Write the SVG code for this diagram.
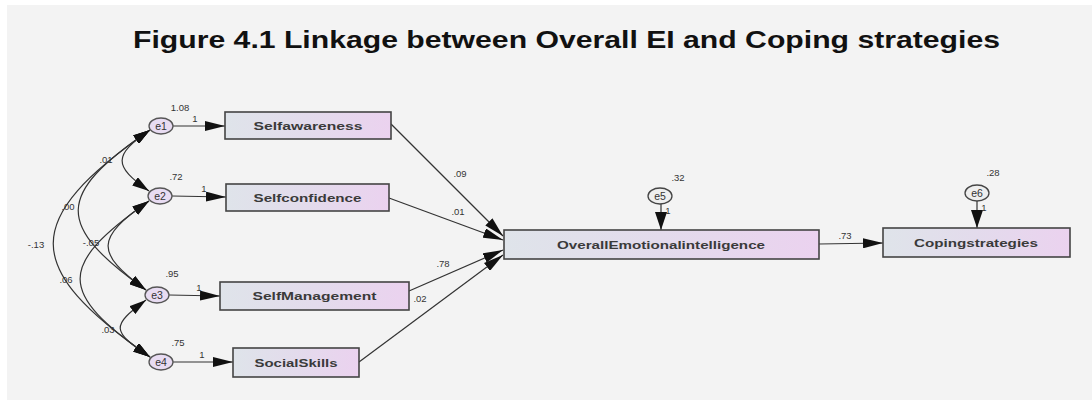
<svg xmlns="http://www.w3.org/2000/svg" width="1092" height="400" viewBox="0 0 1092 400">
<defs>
<linearGradient id="boxg" x1="0" y1="0" x2="1" y2="0">
<stop offset="0" stop-color="#dfe4ea"/>
<stop offset="0.5" stop-color="#e3dbec"/>
<stop offset="1" stop-color="#ebd2ef"/>
</linearGradient>
<marker id="ah" viewBox="0 0 20 10" refX="20" refY="5" markerWidth="20" markerHeight="10" markerUnits="userSpaceOnUse" orient="auto-start-reverse">
<path d="M0,0 L20,5 L0,10 Z" fill="#111"/>
</marker>
<marker id="ahv" viewBox="0 0 18 12" refX="18" refY="6" markerWidth="18" markerHeight="12" markerUnits="userSpaceOnUse" orient="auto-start-reverse">
<path d="M0,0 L18,6 L0,12 Z" fill="#111"/>
</marker>
<marker id="ahs" viewBox="0 0 17 10" refX="17" refY="5" markerWidth="17" markerHeight="10" markerUnits="userSpaceOnUse" orient="auto-start-reverse">
<path d="M0,0 L17,5 L0,10 Z" fill="#111"/>
</marker>
</defs>
<style>
.box{fill:url(#boxg);stroke:#444;stroke-width:1.6}
.err{fill:#e8dcf2;stroke:#555;stroke-width:1.3}
.err2{fill:#eeeeee;stroke:#444;stroke-width:1.3}
.lbl{font-family:"Liberation Sans",Arial,sans-serif;font-weight:bold;font-size:11px;fill:#3a3a3a;text-anchor:middle}
.elbl{font-family:"Liberation Sans",Arial,sans-serif;font-size:10.5px;fill:#333;text-anchor:middle}
.num{font-family:"Liberation Sans",Arial,sans-serif;font-size:9.5px;fill:#333;text-anchor:middle}
.ln{fill:none;stroke:#333;stroke-width:1.2}
</style>
<rect x="0" y="0" width="1092" height="400" fill="#ffffff"/>
<rect x="7" y="5" width="1085" height="395" fill="#f3f3f3"/>
<text x="133" y="48" font-family="'Liberation Sans',Arial,sans-serif" font-weight="bold" font-size="24" fill="#111" textLength="867" lengthAdjust="spacingAndGlyphs">Figure 4.1 Linkage between Overall EI and Coping strategies</text>

<g id="connectors">
<path class="ln" d="M173,126 L225,126" marker-end="url(#ah)"/>
<path class="ln" d="M172,196 L226,197" marker-end="url(#ah)"/>
<path class="ln" d="M169,295 L220,296" marker-end="url(#ah)"/>
<path class="ln" d="M173,362 L233,362" marker-end="url(#ah)"/>
<path class="ln" d="M391,124 L503,236" marker-end="url(#ah)"/>
<path class="ln" d="M389,198 L503,240" marker-end="url(#ah)"/>
<path class="ln" d="M409,291 L503,250" marker-end="url(#ah)"/>
<path class="ln" d="M359,362 L503,255" marker-end="url(#ah)"/>
<path class="ln" d="M819,244 L883,243" marker-end="url(#ah)"/>
<path class="ln" d="M661,204 L661,230" marker-end="url(#ahv)"/>
<path class="ln" d="M977,201 L977,228" marker-end="url(#ahv)"/>
<path class="ln" d="M150,130 C113,155 113,166 149,191" marker-start="url(#ahs)" marker-end="url(#ahs)"/>
<path class="ln" d="M150,130 C55,195 55,225 146,290" marker-start="url(#ahs)" marker-end="url(#ahs)"/>
<path class="ln" d="M150,130 C21,220 21,267 150,357" marker-start="url(#ahs)" marker-end="url(#ahs)"/>
<path class="ln" d="M149,201 C95,238 95,253 146,290" marker-start="url(#ahs)" marker-end="url(#ahs)"/>
<path class="ln" d="M149,201 C57,266 57,292 150,357" marker-start="url(#ahs)" marker-end="url(#ahs)"/>
<path class="ln" d="M146,300 C111,326 111,331 150,357" marker-start="url(#ahs)" marker-end="url(#ahs)"/>
<text class="num" x="180" y="111">1.08</text>
<text class="num" x="195" y="122">1</text>
<text class="num" x="176" y="180">.72</text>
<text class="num" x="204" y="192">1</text>
<text class="num" x="172" y="277">.95</text>
<text class="num" x="199" y="291">1</text>
<text class="num" x="178" y="346">.75</text>
<text class="num" x="202" y="358">1</text>
<text class="num" x="106" y="163">.01</text>
<text class="num" x="68" y="210">.00</text>
<text class="num" x="36" y="248">-.13</text>
<text class="num" x="91" y="246">-.05</text>
<text class="num" x="66" y="283">.06</text>
<text class="num" x="108" y="333">.03</text>
<text class="num" x="460" y="177">.09</text>
<text class="num" x="458" y="215">.01</text>
<text class="num" x="443" y="267">.78</text>
<text class="num" x="420" y="302">.02</text>
<text class="num" x="845" y="239">.73</text>
<text class="num" x="678" y="181">.32</text>
<text class="num" x="993" y="176">.28</text>
<text class="num" x="668" y="214" font-size="7">1</text>
<text class="num" x="984" y="211" font-size="7">1</text>
</g>

<g id="e1"><ellipse class="err" cx="161" cy="126" rx="12" ry="8"/><text class="elbl" x="161" y="129.5">e1</text></g>
<g id="e2"><ellipse class="err" cx="160" cy="196" rx="12" ry="8"/><text class="elbl" x="160" y="199.5">e2</text></g>
<g id="e3"><ellipse class="err" cx="157" cy="295" rx="12" ry="8"/><text class="elbl" x="157" y="298.5">e3</text></g>
<g id="e4"><ellipse class="err" cx="161" cy="362" rx="12" ry="8"/><text class="elbl" x="161" y="365.5">e4</text></g>
<g id="e5"><ellipse class="err2" cx="660" cy="196" rx="12" ry="8"/><text class="elbl" x="660" y="199.5">e5</text></g>
<g id="e6"><ellipse class="err2" cx="977" cy="193" rx="12" ry="8"/><text class="elbl" x="977" y="196.5">e6</text></g>

<g id="selfawareness"><rect class="box" x="225" y="112" width="166" height="27"/><text class="lbl" x="308" y="129.5" textLength="109" lengthAdjust="spacingAndGlyphs">Selfawareness</text></g>
<g id="selfconfidence"><rect class="box" x="226" y="184" width="163" height="27"/><text class="lbl" x="307.5" y="201.5" textLength="108" lengthAdjust="spacingAndGlyphs">Selfconfidence</text></g>
<g id="selfmanagement"><rect class="box" x="220" y="282" width="189" height="28"/><text class="lbl" x="314.5" y="300" textLength="124" lengthAdjust="spacingAndGlyphs">SelfManagement</text></g>
<g id="socialskills"><rect class="box" x="233" y="348" width="126" height="29"/><text class="lbl" x="296" y="366.5" textLength="83" lengthAdjust="spacingAndGlyphs">SocialSkills</text></g>
<g id="overallei"><rect class="box" x="504" y="230" width="315" height="29"/><text class="lbl" x="661" y="248.5" textLength="208" lengthAdjust="spacingAndGlyphs">OverallEmotionalintelligence</text></g>
<g id="coping"><rect class="box" x="883" y="228" width="187" height="29"/><text class="lbl" x="976" y="246.5" textLength="124" lengthAdjust="spacingAndGlyphs">Copingstrategies</text></g>
</svg>
